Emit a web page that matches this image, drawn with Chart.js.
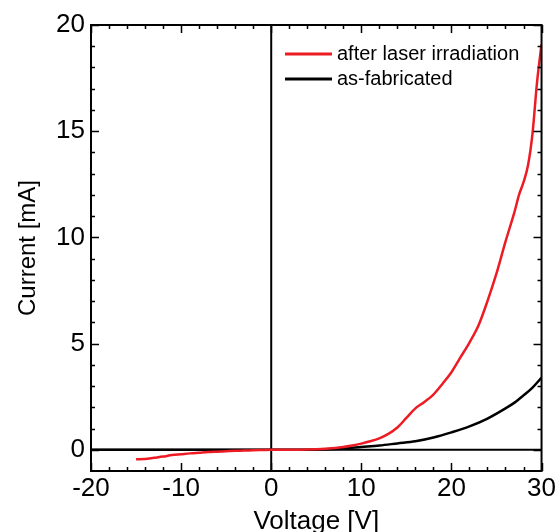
<!DOCTYPE html>
<html>
<head>
<meta charset="utf-8">
<script src="https://cdn.jsdelivr.net/npm/chart.js@4"></script>
<style>
  html, body { margin: 0; padding: 0; background: #fff; }
  #wrap { width: 558px; height: 532px; }
</style>
</head>
<body>
<div id="wrap"><canvas id="iv"></canvas></div>
<script>
// I-V data
const seriesLabels = ["after laser irradiation", "as-fabricated"];

const laserVoltage = [-15, -14, -13, -12, -11, -10, -9, -8, -7, -6, -5, -4, -3, -2, -1, 0,
    2, 4, 6, 8, 9, 10, 11, 12, 13, 14, 15, 16, 17, 18, 19, 20, 21, 22, 23, 24, 25, 26,
    27, 27.5, 28, 28.5, 29, 29.5, 30];
const laserCurrent = [-0.45, -0.44, -0.38, -0.32, -0.25, -0.21, -0.17, -0.14, -0.11, -0.09,
    -0.07, -0.05, -0.04, -0.02, -0.01, 0,
    0, 0.01, 0.05, 0.13, 0.2, 0.29, 0.4, 0.54, 0.75, 1.05, 1.5, 1.95, 2.25, 2.6, 3.1, 3.65,
    4.35, 5.05, 5.85, 7.0, 8.3, 9.8, 11.2, 12.0, 12.6, 13.4, 14.9, 17.3, 19.1];

const fabVoltage = [-20, -10, 0, 2, 4, 6, 8, 10, 12, 14, 16, 18, 20, 22, 24, 26, 27, 28, 29, 30];
const fabCurrent = [0, 0, 0, 0, 0.005, 0.02, 0.06, 0.13, 0.2, 0.3, 0.4, 0.58, 0.82, 1.1,
    1.47, 1.95, 2.22, 2.56, 2.93, 3.4];

const xTicks = [-20, -10, 0, 10, 20, 30];
const yTicks = [0, 5, 10, 15, 20];

(function () {
    "use strict";

    const FONT = "'Liberation Sans', Arial, sans-serif";
    const RED = "#ed1c24";

    const toPoints = (xs, ys) => xs.map((v, i) => ({ x: v, y: ys[i] }));

    // frame, zero lines, inward ticks on all four sides, legend inside plot
    const framePlugin = {
        id: "framePlugin",
        beforeDatasetsDraw(chart) {
            const { ctx, chartArea: a, scales } = chart;
            const x0 = scales.x.getPixelForValue(0);
            const y0 = scales.y.getPixelForValue(0);
            ctx.save();
            ctx.strokeStyle = "#000";
            ctx.lineWidth = 2;
            ctx.beginPath();
            ctx.moveTo(a.left, y0);
            ctx.lineTo(a.right, y0);
            ctx.moveTo(x0, a.top);
            ctx.lineTo(x0, a.bottom);
            ctx.stroke();
            ctx.restore();
        },
        afterDatasetsDraw(chart) {
            const { ctx, chartArea: a, scales } = chart;
            ctx.save();
            ctx.strokeStyle = "#000";
            ctx.lineWidth = 2;
            ctx.strokeRect(a.left, a.top, a.right - a.left, a.bottom - a.top);

            ctx.lineWidth = 1.5;
            ctx.beginPath();
            // x ticks, minor every 2, major every 10
            for (let v = scales.x.min; v <= scales.x.max + 1e-9; v += 2) {
                const px = Math.round(scales.x.getPixelForValue(v)) + 0.5;
                const len = v % 10 === 0 ? 8 : 4;
                ctx.moveTo(px, a.bottom);
                ctx.lineTo(px, a.bottom - len);
                ctx.moveTo(px, a.top);
                ctx.lineTo(px, a.top + len);
            }
            // y ticks, minor every 1, major every 5
            for (let v = 0; v <= scales.y.max + 1e-9; v += 1) {
                const py = Math.round(scales.y.getPixelForValue(v)) + 0.5;
                const len = v % 5 === 0 ? 8 : 4;
                ctx.moveTo(a.left, py);
                ctx.lineTo(a.left + len, py);
                ctx.moveTo(a.right, py);
                ctx.lineTo(a.right - len, py);
            }
            ctx.stroke();
            ctx.restore();
        },
        afterDraw(chart) {
            const { ctx } = chart;
            ctx.save();
            ctx.font = "20px " + FONT;
            ctx.textBaseline = "middle";
            ctx.fillStyle = "#000";
            chart.data.datasets.forEach((ds, i) => {
                const y = 54 + i * 25;
                ctx.strokeStyle = ds.borderColor;
                ctx.lineWidth = 3;
                ctx.beginPath();
                ctx.moveTo(285, y);
                ctx.lineTo(332, y);
                ctx.stroke();
                ctx.fillText(ds.label, 337, y);
            });
            ctx.restore();
        },
    };

    const ctx = document.getElementById("iv").getContext("2d");

    new Chart(ctx, {
        type: "line",
        data: {
            datasets: [
                {
                    label: seriesLabels[0],
                    data: toPoints(laserVoltage, laserCurrent),
                    borderColor: RED,
                    borderWidth: 2.5,
                    pointRadius: 0,
                    cubicInterpolationMode: "monotone",
                    fill: false,
                },
                {
                    label: seriesLabels[1],
                    data: toPoints(fabVoltage, fabCurrent),
                    borderColor: "#000",
                    borderWidth: 2.5,
                    pointRadius: 0,
                    cubicInterpolationMode: "monotone",
                    fill: false,
                },
            ],
        },
        options: {
            responsive: true,
            maintainAspectRatio: false,
            animation: false,
            layout: {
                padding: { left: 0, top: 25, right: 15, bottom: 0 },
            },
            plugins: {
                legend: { display: false },
                tooltip: { enabled: false },
            },
            scales: {
                x: {
                    type: "linear",
                    min: -20,
                    max: 30,
                    afterBuildTicks: (scale) => {
                        scale.ticks = xTicks.map((v) => ({ value: v }));
                    },
                    afterFit: (scale) => {
                        scale.height = 61;
                    },
                    ticks: {
                        maxRotation: 0,
                        padding: 2,
                        color: "#000",
                        font: { family: FONT, size: 26 },
                    },
                    grid: { display: false, drawTicks: false },
                    border: { display: false },
                    title: {
                        display: true,
                        text: "Voltage [V]",
                        color: "#000",
                        padding: 0,
                        font: { family: FONT, size: 26, lineHeight: 0.8 },
                    },
                },
                y: {
                    type: "linear",
                    min: -1,
                    max: 20,
                    afterBuildTicks: (scale) => {
                        scale.ticks = yTicks.map((v) => ({ value: v }));
                    },
                    afterFit: (scale) => {
                        scale.width = 91;
                    },
                    ticks: {
                        padding: 6,
                        color: "#000",
                        font: { family: FONT, size: 26 },
                    },
                    grid: { display: false, drawTicks: false },
                    border: { display: false },
                    title: {
                        display: true,
                        text: "Current [mA]",
                        color: "#000",
                        padding: { top: 14, bottom: 0 },
                        font: { family: FONT, size: 24 },
                    },
                },
            },
        },
        plugins: [framePlugin],
    });
})();
</script>
</body>
</html>
